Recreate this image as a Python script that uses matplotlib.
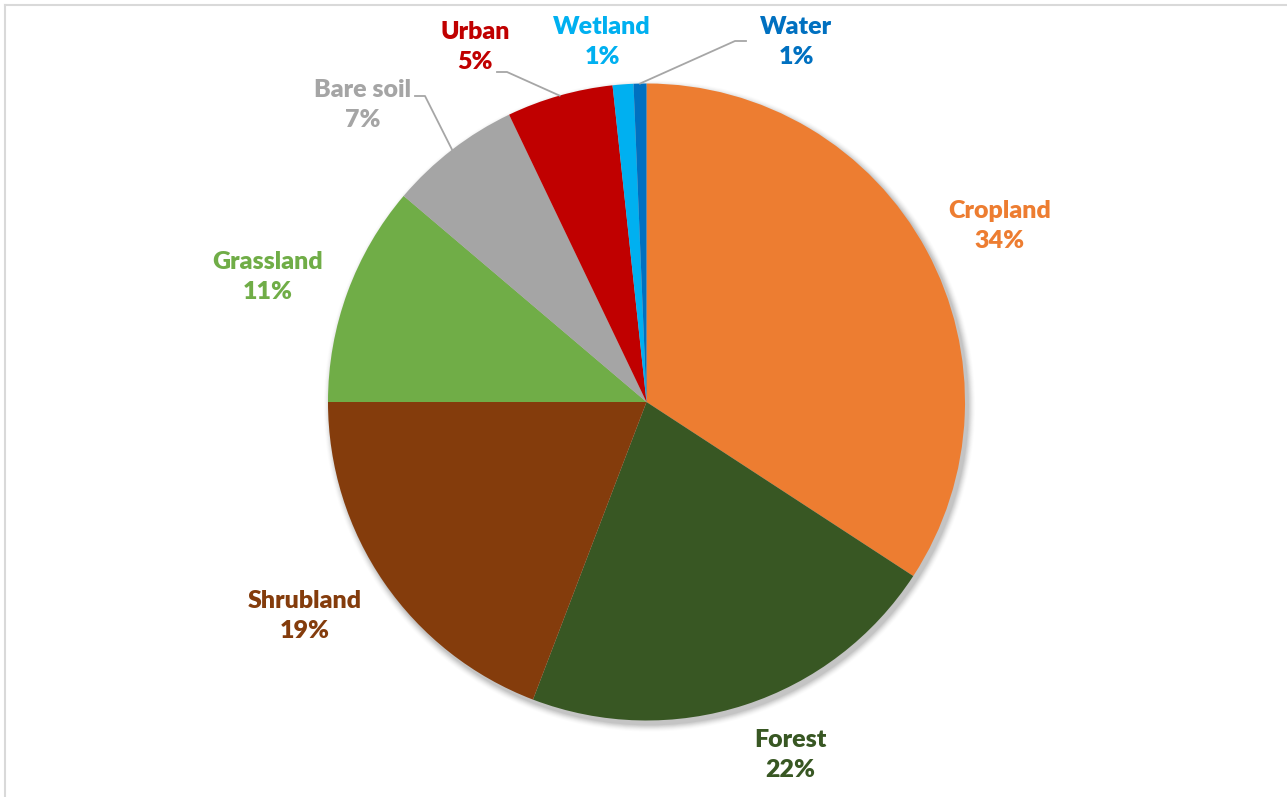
import matplotlib
matplotlib.use("Agg")
import matplotlib.pyplot as plt
from matplotlib.lines import Line2D
import numpy as np

# Land cover shares (%), clockwise from 12 o'clock
categories = ["Cropland", "Forest", "Shrubland", "Grassland", "Bare soil", "Urban", "Wetland", "Water"]
shares = [34.2, 21.6, 19.2, 11.2, 6.7, 5.4, 1.05, 0.65]
colors = ["#ED7D31", "#385723", "#843C0C", "#70AD47", "#A5A5A5", "#C00000", "#00B0F0", "#0070C0"]

W, H = 1287, 797
fig = plt.figure(figsize=(W / 100, H / 100), dpi=100)
ax = fig.add_axes([0, 0, 1, 1])

cx, cy, R = 646.5, H - 402, 318.5

# soft drop shadow
for i, a in enumerate(np.linspace(0.012, 0.05, 8)):
    grow = 8 - i
    ax.add_patch(plt.Circle((cx + 3, cy - 4), R + grow * 0.9, color="black", alpha=a, lw=0, zorder=1))

wedges, _ = ax.pie(shares, colors=colors, startangle=90, counterclock=False,
                   center=(cx, cy), radius=R, frame=True,
                   wedgeprops=dict(linewidth=0, zorder=2))
ax.set_xlim(0, W)
ax.set_ylim(0, H)
ax.set_aspect("equal")
ax.axis("off")

# label anchor (pixel coords from top-left) for each category
label_pos = {
    "Cropland": (1000, 226),
    "Forest": (790, 755),
    "Shrubland": (305, 616),
    "Grassland": (268, 277),
    "Bare soil": (363, 105),
    "Urban": (475, 47),
    "Wetland": (602, 42),
    "Water": (796, 42),
}
# leader lines: (start x, start y, elbow x) in pixel coords
leaders = {
    "Bare soil": (415, 96, 425),
    "Urban": (497, 72, 507),
    "Water": (746, 41, 735),
}

font = dict(family=["Lato", "DejaVu Sans"], fontweight="heavy", fontsize=18)
for name, val, col, w in zip(categories, shares, colors, wedges):
    lx, ly = label_pos[name]
    ax.text(lx, H - ly, f"{name}\n{val:.0f}%", color=col, ha="center", va="center",
            linespacing=1.48, zorder=5, **font)
    if name in leaders:
        sx, sy, ex = leaders[name]
        mid = np.deg2rad((w.theta1 + w.theta2) / 2)
        tx, ty = cx + R * np.cos(mid), cy + R * np.sin(mid)
        ax.add_line(Line2D([sx, ex, tx], [H - sy, H - sy, ty], color="#A6A6A6", lw=1.3, zorder=4))

# chart-area border (top and left edges visible)
fig.add_artist(Line2D([4.5 / W, 1], [1 - 4.5 / H, 1 - 4.5 / H], transform=fig.transFigure, color="#D9D9D9", lw=1.5))
fig.add_artist(Line2D([4.5 / W, 4.5 / W], [0, 1 - 4.5 / H], transform=fig.transFigure, color="#D9D9D9", lw=1.5))

fig.savefig("out.png", dpi=100, facecolor="white")
